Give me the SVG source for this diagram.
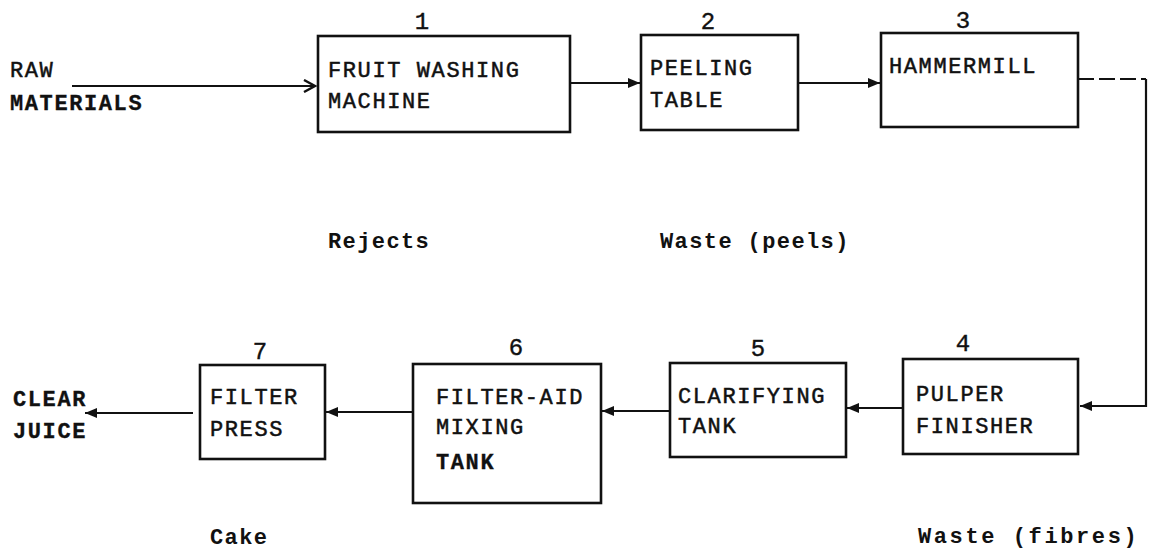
<svg xmlns="http://www.w3.org/2000/svg" width="1149" height="552" viewBox="0 0 1149 552">
<style>
  .box { fill: none; stroke: #111; stroke-width: 2.6; }
  .t { font-family: "Liberation Mono", "DejaVu Sans Mono", monospace; font-size: 22px; letter-spacing: 1.6px; fill: #111; stroke: #111; stroke-width: 0.5; }
  .b { font-weight: bold; stroke-width: 0.3; }
  .num { font-family: "Liberation Mono", "DejaVu Sans Mono", monospace; font-size: 24px; fill: #111; stroke: #111; stroke-width: 0.4; text-anchor: middle; }
  .lbl { font-family: "Liberation Mono", "DejaVu Sans Mono", monospace; font-size: 22px; font-weight: bold; letter-spacing: 1.4px; fill: #111; }
  .ln { fill: none; stroke: #111; stroke-width: 2.2; }
</style>
<defs>
  <marker id="ah" markerUnits="userSpaceOnUse" markerWidth="12" markerHeight="10" refX="12" refY="5" orient="auto">
    <path d="M0,0 L12,5 L0,10 z" fill="#111"/>
  </marker>
  <marker id="open" markerUnits="userSpaceOnUse" markerWidth="16" markerHeight="14" refX="13" refY="7" orient="auto">
    <path d="M2,1 L13,7 L2,13" fill="none" stroke="#111" stroke-width="2.4"/>
  </marker>
</defs>
<rect width="1149" height="552" fill="#fff"/>

<g id="raw-materials">
  <text class="t" x="10" y="77">RAW</text>
  <text class="t b" x="10" y="110">MATERIALS</text>
</g>

<g id="node1">
  <text class="num" x="422" y="29">1</text>
  <rect class="box" x="318" y="36" width="252" height="96"/>
  <text class="t" x="328" y="77">FRUIT WASHING</text>
  <text class="t" x="328" y="108">MACHINE</text>
</g>

<g id="node2">
  <text class="num" x="708" y="29">2</text>
  <rect class="box" x="641" y="35" width="157" height="95"/>
  <text class="t" x="650" y="75">PEELING</text>
  <text class="t" x="650" y="107">TABLE</text>
</g>

<g id="node3">
  <text class="num" x="963" y="28">3</text>
  <rect class="box" x="881" y="33" width="197" height="94"/>
  <text class="t" x="889" y="73">HAMMERMILL</text>
</g>

<g id="node4">
  <text class="num" x="963" y="351">4</text>
  <rect class="box" x="903" y="359" width="175" height="95"/>
  <text class="t" x="916" y="401">PULPER</text>
  <text class="t" x="916" y="433">FINISHER</text>
</g>

<g id="node5">
  <text class="num" x="758" y="356">5</text>
  <rect class="box" x="670" y="363" width="176" height="94"/>
  <text class="t" x="678" y="403">CLARIFYING</text>
  <text class="t" x="678" y="433">TANK</text>
</g>

<g id="node6">
  <text class="num" x="516" y="355">6</text>
  <rect class="box" x="413" y="364" width="188" height="139"/>
  <text class="t" x="436" y="404">FILTER-AID</text>
  <text class="t" x="436" y="434">MIXING</text>
  <text class="t b" x="436" y="469">TANK</text>
</g>

<g id="node7">
  <text class="num" x="260" y="359">7</text>
  <rect class="box" x="200" y="365" width="125" height="94"/>
  <text class="t" x="210" y="404">FILTER</text>
  <text class="t" x="210" y="436">PRESS</text>
</g>

<g id="clear-juice">
  <text class="t b" x="13" y="406">CLEAR</text>
  <text class="t b" x="13" y="438">JUICE</text>
</g>

<g id="waste-labels">
  <text class="lbl" x="328" y="248">Rejects</text>
  <text class="lbl" x="660" y="248">Waste (peels)</text>
  <text class="lbl" x="918" y="543" style="letter-spacing:2.6px">Waste (fibres)</text>
  <text class="lbl" x="210" y="544">Cake</text>
</g>

<g id="connectors">
  <path class="ln" d="M72,86 L315,86" marker-end="url(#open)"/>
  <path class="ln" d="M570,83 L640,83" marker-end="url(#ah)"/>
  <path class="ln" d="M798,83 L880,83" marker-end="url(#ah)"/>
  <path class="ln" d="M1078,79 L1146,79" stroke-dasharray="16 5"/>
  <path class="ln" d="M1146,79 L1146,406 L1080,406" marker-end="url(#ah)"/>
  <path class="ln" d="M903,408 L847,408" marker-end="url(#ah)"/>
  <path class="ln" d="M670,411 L602,411" marker-end="url(#ah)"/>
  <path class="ln" d="M413,412 L326,412" marker-end="url(#ah)"/>
  <path class="ln" d="M193,413 L85,413" marker-end="url(#ah)"/>
</g>
</svg>
